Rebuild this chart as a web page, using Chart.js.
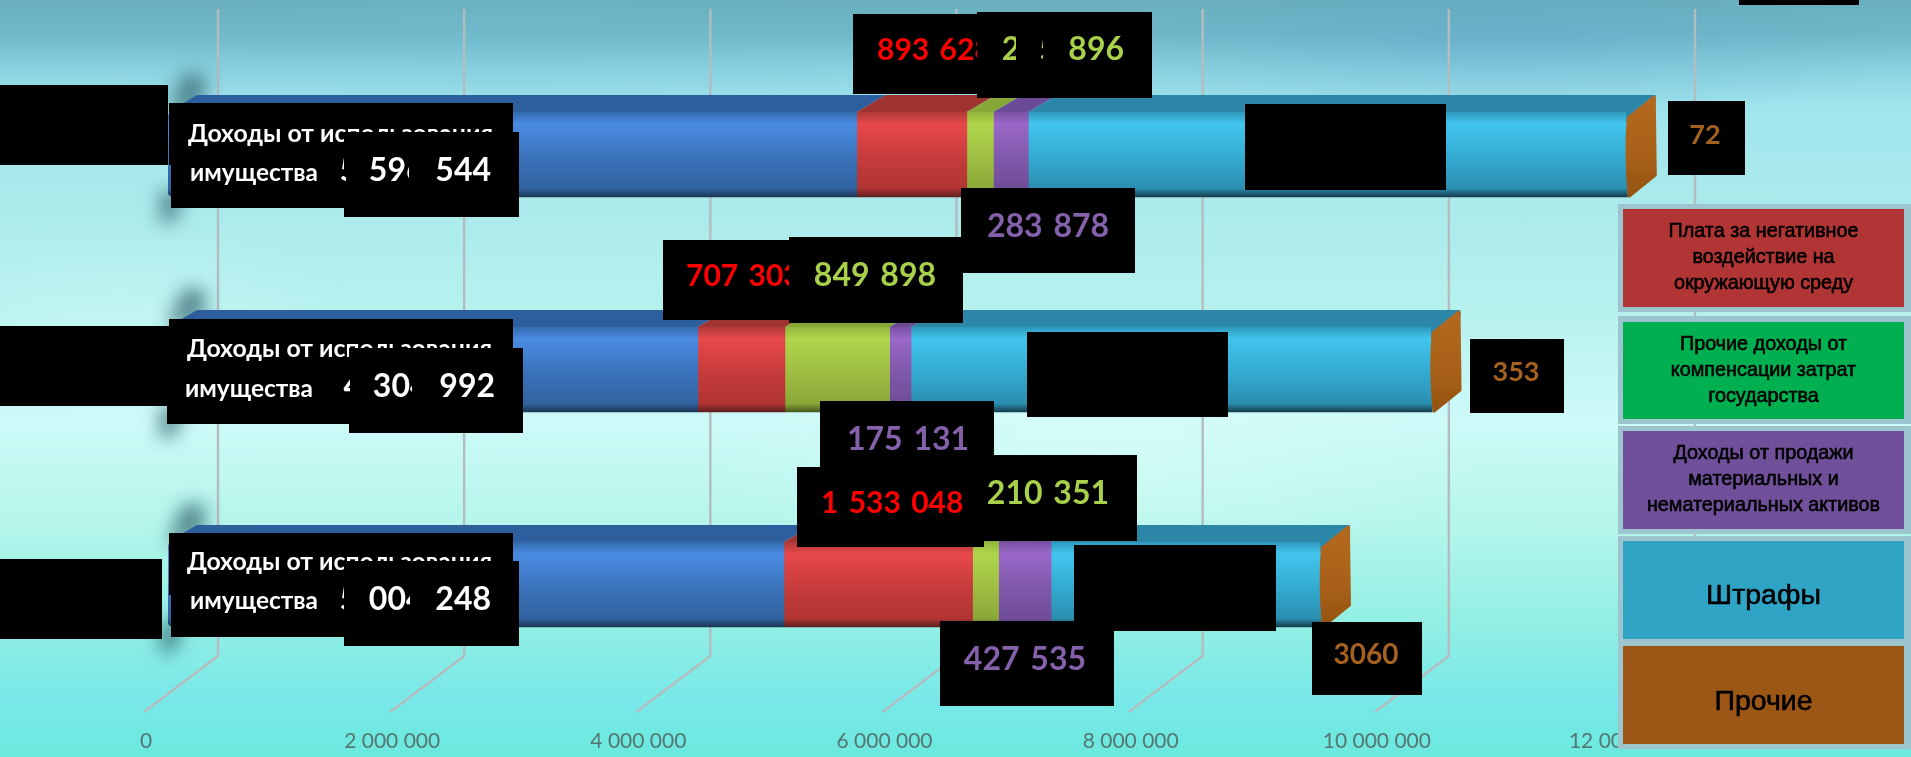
<!DOCTYPE html>
<html lang="ru">
<head>
<meta charset="utf-8">
<title>Доходы</title>
<style>
html,body{margin:0;padding:0;width:1911px;height:757px;overflow:hidden}
body{background:
 radial-gradient(ellipse 420px 90px at 1500px 40px,rgba(90,160,205,.35),transparent),
 radial-gradient(ellipse 500px 70px at 500px 40px,rgba(110,190,215,.25),transparent),
 radial-gradient(ellipse 380px 120px at 1100px 460px,rgba(225,255,250,.45),transparent),
 radial-gradient(ellipse 260px 110px at 120px 330px,rgba(205,250,248,.5),transparent),
 linear-gradient(180deg,#69afbd 0,#70b9c8 35px,#8bd3e0 70px,#a0e5ed 105px,#aaeaeb 200px,#b6f1ee 310px,#cdfaf8 420px,#b6f6ec 520px,#93efe3 620px,#78e8e8 700px,#6be9de 757px)}
canvas{display:block}
</style>
<script src="https://cdn.jsdelivr.net/npm/chart.js@4/dist/chart.umd.min.js"></script>
</head>
<body>
<canvas id="c" width="1911" height="757"></canvas>
<script>
const categories = ['Строка 1', 'Строка 2', 'Строка 3'];
const tickStep = 2000000;
const axisMax = 12000000;
const seriesNames = ['Доходы от использования имущества', 'Плата за негативное воздействие на окружающую среду', 'Прочие доходы от компенсации затрат государства', 'Доходы от продажи материальных и нематериальных активов', 'Штрафы', 'Прочие'];
const incomeProperty = [5596544, 4304992, 5004248];
const negativeImpact = [893628, 707303, 1533048];
const otherCompensation = [215896, 849898, 210351];
const assetSales = [283878, 175131, 427535];
const fines = [4866000, 4232000, 2193000];
const otherIncome = [72, 353, 3060];

const legendRows = [
  {s: 1, lines: ['Плата за негативное', 'воздействие на', 'окружающую среду'], fill: '#b23535', y0: 209, y1: 307, oy0: 204, oy1: 312, size: 19.8, shift: 0},
  {s: 2, lines: ['Прочие доходы от', 'компенсации затрат', 'государства'], fill: '#00b050', y0: 322, y1: 419, oy0: 316, oy1: 424, size: 19.8, shift: 0},
  {s: 3, lines: ['Доходы от продажи', 'материальных и', 'нематериальных активов'], fill: '#70509a', y0: 431, y1: 529, oy0: 426, oy1: 534, size: 19.8, shift: 0},
  {s: 4, lines: ['Штрафы'], fill: '#2fa4c5', y0: 541, y1: 639, oy0: 536, oy1: 643, size: 28.5, shift: 6},
  {s: 5, lines: ['Прочие'], fill: '#9c5716', y0: 646, y1: 744, oy0: 641, oy1: 749, size: 28.5, shift: 7}
];

const faces = [
  {top: '#2d5f9e', stops: ['#336aae', '#4a8ce2', '#3a72ba', '#30639f', '#1b3553']},
  {top: '#a03230', stops: ['#b03a38', '#e8484a', '#c53b3b', '#b03432', '#5a1f1e']},
  {top: '#87a836', stops: ['#94b53d', '#afd64b', '#9ebd42', '#8aa838', '#47561f']},
  {top: '#6b4a96', stops: ['#7853a4', '#9a67c8', '#7f58aa', '#6f4c97', '#38274e']},
  {top: '#2b86a8', stops: ['#2f98bc', '#41c5ee', '#33aad0', '#2b8eb0', '#143c4c']},
  {top: '#a8621c', stops: ['#b06a20', '#b06a20', '#a86219', '#975710', '#6b3d0b']}
];
const depthX = 29, depthY = 17, barH = 85;

function fmt(v){ return String(v).replace(/\B(?=(\d{3})+(?!\d))/g, ' '); }
function faceFill(i){
  return function(ctx){
    const chart = ctx.chart;
    const c = chart.scales.y && Number.isInteger(ctx.dataIndex) ? chart.scales.y.getPixelForValue(ctx.dataIndex) : NaN;
    if(!Number.isFinite(c)) return faces[i].stops[2];
    const g = chart.ctx.createLinearGradient(0, c - barH/2, 0, c + barH/2);
    const s = faces[i].stops;
    g.addColorStop(0, s[0]); g.addColorStop(.14, s[1]); g.addColorStop(.55, s[2]);
    g.addColorStop(.9, s[3]); g.addColorStop(1, s[4]);
    return g;
  };
}
const allSeries = [incomeProperty, negativeImpact, otherCompensation, assetSales, fines, otherIncome];

const backdrop = {
  id: 'backdrop',
  beforeDatasetsDraw(chart){
    const c = chart.ctx, x = chart.scales.x;
    c.save();
    // gridlines bent along the floor
    x.ticks.forEach(t => {
      const p = x.getPixelForValue(t.value);
      c.beginPath(); c.moveTo(p + 50, 9); c.lineTo(p + 50, 656); c.lineTo(p - 24, 712);
      c.lineWidth = 2.4; c.strokeStyle = '#b4bcc0'; c.lineJoin = 'round'; c.stroke();
    });
    // blurred wall shadow
    c.filter = 'blur(9px)'; c.fillStyle = 'rgba(55,105,115,.75)';
    categories.forEach((n, i) => {
      const m = chart.getDatasetMeta(0).data[i];
      const top = m.y - barH/2, bot = m.y + barH/2, b = m.base;
      c.beginPath(); c.moveTo(b + 14, top - 38); c.lineTo(b + 38, top - 38); c.lineTo(b + 36, top - 8); c.lineTo(b - 2, top + 4); c.closePath(); c.fill();
      c.beginPath(); c.moveTo(b - 8, bot - 6); c.lineTo(b + 18, bot - 6); c.lineTo(b + 6, bot + 26); c.lineTo(b - 8, bot + 26); c.closePath(); c.fill();
    });
    c.filter = 'none';
    // top faces
    allSeries.forEach((vals, s) => {
      chart.getDatasetMeta(s).data.forEach(el => {
        const top = el.y - barH/2;
        c.beginPath(); c.moveTo(el.base, top); c.lineTo(el.x, top); c.lineTo(el.x + depthX, top - depthY); c.lineTo(el.base + depthX, top - depthY); c.closePath();
        c.fillStyle = faces[s].top; c.fill();
      });
    });
    c.restore();
  },
  afterDatasetsDraw(chart){
    const c = chart.ctx;
    c.save();
    chart.getDatasetMeta(5).data.forEach(el => {
      const top = el.y - barH/2, bot = el.y + barH/2, x = el.x;
      c.beginPath(); c.moveTo(x - 1, top); c.lineTo(x + depthX - 1, top - depthY); c.lineTo(x + depthX, top - depthY + 6); c.lineTo(x - 1, top + 10); c.closePath();
      c.fillStyle = faces[4].top; c.fill();
      const g = c.createLinearGradient(0, top - depthY, 0, bot);
      g.addColorStop(0, '#b4691f'); g.addColorStop(.6, '#a86018'); g.addColorStop(1, '#93530f');
      c.beginPath(); c.moveTo(x + 1, top + 6); c.lineTo(x + depthX - 2, top - depthY + 2); c.lineTo(x + depthX - 1, bot - depthY - 5); c.lineTo(x + 2, bot - 1);
      c.quadraticCurveTo(x - 2, el.y, x + 1, top + 6); c.closePath();
      c.fillStyle = g; c.strokeStyle = g; c.lineWidth = 3; c.lineJoin = 'round'; c.fill(); c.stroke();
    });
    c.restore();
  },
  afterDraw(chart){
    const c = chart.ctx;
    const box = (x0, y0, x1, y1) => { c.fillStyle = '#000'; c.fillRect(x0, y0, x1 - x0, y1 - y0); };
    const txt = (t, x, y, size, color, align) => {
      c.font = 'bold ' + size + 'px Lato'; c.fillStyle = color; c.textAlign = align || 'left'; c.textBaseline = 'alphabetic';
      c.wordSpacing = '3px'; c.fillText(t, x, y); c.wordSpacing = '0px';
    };
    const W = '#ffffff', R = '#ff0000', G = '#a9d04a', P = '#8560ab', O = '#a5611f';
    const name1 = 'Доходы от использования', name2 = 'имущества';
    const nameTxt = (t, x, y, w) => { c.font = 'bold 25px Lato'; c.fillStyle = W; c.textAlign = 'left'; c.textBaseline = 'alphabetic'; c.fillText(t, x, y, w); };

    c.save();
    // legend panel
    legendRows.forEach(r => {
      c.fillStyle = '#9dc5cf'; c.fillRect(1618, r.oy0, 293, r.oy1 - r.oy0);
    });
    legendRows.forEach(r => {
      c.fillStyle = r.fill; c.fillRect(1623, r.y0, 281, r.y1 - r.y0);
      c.fillStyle = '#000'; c.font = r.size + 'px "Liberation Sans"'; c.textAlign = 'center'; c.textBaseline = 'middle';
      c.lineWidth = .6; c.strokeStyle = '#000';
      const mid = (r.y0 + r.y1)/2 + r.shift;
      r.lines.forEach((l, k) => {
        const y = mid + (k - (r.lines.length - 1)/2)*26;
        c.fillText(l, 1763.5, y); c.strokeText(l, 1763.5, y);
      });
    });
    box(1739, 0, 1859, 5);

    // row 1
    box(0, 85, 168, 165);
    box(169, 103, 513, 165); box(171, 130, 380, 208);
    nameTxt(name1, 188, 142, 305); nameTxt(name2, 190, 181, 128);
    box(344, 132, 519, 217);
    txt(fmt(incomeProperty[0]), 491, 181, 32, W, 'right');
    box(409, 140, 435, 190); box(346, 150, 369, 190); box(344, 150, 346, 170);
    box(853, 14, 977, 94); txt(fmt(negativeImpact[0]), 877, 60, 30, R);
    box(977, 12, 1152, 98); txt(fmt(otherCompensation[0]), 1124, 60, 32, G, 'right');
    box(1016, 30, 1041, 70); box(1043, 30, 1066, 70);
    box(1245, 104, 1446, 190);
    box(1668, 101, 1745, 175); txt(String(otherIncome[0]), 1705, 144, 27, O, 'center');
    box(961, 188, 1135, 273); txt(fmt(assetSales[0]), 987, 237, 32, P);
    // row 2
    box(0, 326, 169, 406);
    box(169, 319, 513, 380); box(167, 350, 380, 424);
    nameTxt(name1, 187, 357, 305); nameTxt(name2, 185, 397, 128);
    box(349, 348, 523, 433);
    txt(fmt(incomeProperty[1]), 495, 397, 32, W, 'right');
    box(412, 355, 439, 405); box(350, 355, 372, 405);
    box(663, 240, 790, 320); txt(fmt(negativeImpact[1]), 686, 286, 30, R);
    box(789, 237, 963, 323); txt(fmt(otherCompensation[1]), 936, 286, 32, G, 'right');
    box(1027, 332, 1228, 417);
    box(1470, 339, 1564, 413); txt(String(otherIncome[1]), 1516, 381, 27, O, 'center');
    box(820, 401, 994, 486); txt(fmt(assetSales[1]), 847, 450, 32, P);
    // row 3
    box(0, 559, 162, 639);
    box(169, 533, 513, 595); box(171, 570, 380, 637);
    nameTxt(name1, 187, 570, 305); nameTxt(name2, 190, 609, 128);
    box(344, 561, 519, 646);
    txt(fmt(incomeProperty[2]), 491, 610, 32, W, 'right');
    box(410, 575, 435, 620); box(344, 570, 367, 620);
    box(797, 467, 984, 547); txt(fmt(negativeImpact[2]), 821, 513, 30, R);
    box(963, 455, 1137, 541); txt(fmt(otherCompensation[2]), 1109, 504, 32, G, 'right');
    box(1074, 545, 1276, 631);
    box(940, 621, 1114, 706); txt(fmt(assetSales[2]), 1086, 670, 32, P, 'right');
    box(1312, 622, 1422, 695); txt(String(otherIncome[2]), 1366, 664, 28, O, 'center');
    c.restore();
  }
};

new Chart(document.getElementById('c'), {
  type: 'bar',
  plugins: [backdrop],
  data: {
    labels: categories,
    datasets: allSeries.map((vals, i) => ({
      label: seriesNames[i],
      data: vals,
      backgroundColor: faceFill(i),
      borderWidth: 0,
      barThickness: barH,
      borderRadius: i === 0 ? {topLeft: 6, bottomLeft: 6, topRight: 0, bottomRight: 0} : 0,
      borderSkipped: false
    }))
  },
  options: {
    indexAxis: 'y',
    responsive: false,
    animation: false,
    layout: {padding: {left: 168, right: 266, top: 47, bottom: 0}},
    plugins: {legend: {display: false}, tooltip: {enabled: false}},
    scales: {
      x: {
        stacked: true, min: 0, max: axisMax,
        border: {display: false},
        grid: {display: false},
        afterFit(scale){ scale.height = 65; },
        ticks: {
          stepSize: tickStep, autoSkip: false, maxRotation: 0, labelOffset: -22, padding: 29,
          color: '#557773', font: {family: 'Lato', size: 21},
          callback: v => fmt(v)
        }
      },
      y: {stacked: true, display: false}
    }
  }
});
</script>
</body>
</html>
